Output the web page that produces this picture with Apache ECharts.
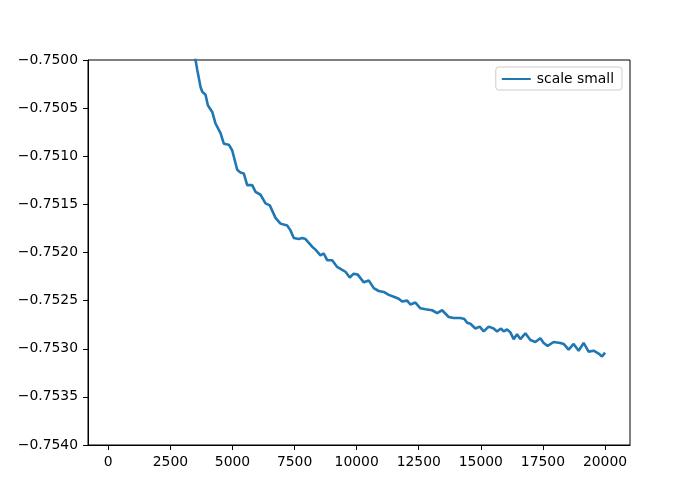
<!DOCTYPE html>
<html>
<head>
<meta charset="utf-8">
<script src="https://cdn.jsdelivr.net/npm/echarts@6/dist/echarts.min.js"></script>
<style>html,body{margin:0;padding:0;background:#fff}#chart{width:700px;height:500px}</style>
</head>
<body>
<div id="chart"></div>
<script>
const seriesName = 'scale small';
const xTicks = [0, 2500, 5000, 7500, 10000, 12500, 15000, 17500, 20000];
const yTicks = [-0.754, -0.7535, -0.753, -0.7525, -0.752, -0.7515, -0.751, -0.7505, -0.75];
const steps = [2708, 3151, 3513, 3581, 3714, 3783, 3916, 4008, 4185, 4318, 4519, 4652, 4853, 4990, 5191, 5324, 5457, 5594, 5795, 5928, 6129, 6330, 6503, 6732, 6934, 7203, 7336, 7469, 7670, 7807, 7940, 8209, 8342, 8543, 8676, 8813, 9014, 9215, 9416, 9549, 9722, 9883, 10044, 10286, 10487, 10688, 10889, 11091, 11292, 11493, 11694, 11831, 12032, 12165, 12366, 12567, 12769, 13038, 13239, 13441, 13706, 13907, 14177, 14338, 14447, 14580, 14781, 14954, 15115, 15316, 15517, 15654, 15815, 15920, 16056, 16189, 16322, 16459, 16592, 16793, 16994, 17195, 17396, 17529, 17690, 17932, 18201, 18334, 18535, 18736, 18938, 19139, 19340, 19541, 19742, 19879, 20000];
const values = [-0.74875, -0.74958, -0.75000, -0.75010, -0.75028, -0.75033, -0.75036, -0.75047, -0.75054, -0.75066, -0.75076, -0.75087, -0.75088, -0.75094, -0.75114, -0.75117, -0.75118, -0.75130, -0.75130, -0.75137, -0.75140, -0.75149, -0.75151, -0.75164, -0.75170, -0.75172, -0.75177, -0.75185, -0.75186, -0.75185, -0.75186, -0.75194, -0.75197, -0.75203, -0.75201, -0.75208, -0.75208, -0.75215, -0.75218, -0.75220, -0.75226, -0.75222, -0.75223, -0.75231, -0.75229, -0.75237, -0.75240, -0.75241, -0.75244, -0.75246, -0.75248, -0.75251, -0.75250, -0.75254, -0.75252, -0.75258, -0.75259, -0.75260, -0.75263, -0.75260, -0.75267, -0.75268, -0.75268, -0.75269, -0.75273, -0.75274, -0.75279, -0.75277, -0.75282, -0.75277, -0.75279, -0.75282, -0.75279, -0.75282, -0.75280, -0.75283, -0.75290, -0.75285, -0.75290, -0.75284, -0.75291, -0.75293, -0.75289, -0.75294, -0.75297, -0.75293, -0.75294, -0.75295, -0.75301, -0.75295, -0.75302, -0.75294, -0.75303, -0.75302, -0.75305, -0.75308, -0.75304];

const data = steps.map((s, i) => [s, values[i]]);
const font = 'DejaVu Sans';
const chart = echarts.init(document.getElementById('chart'), null, {renderer: 'canvas'});
chart.setOption({
  animation: false,
  backgroundColor: '#ffffff',
  grid: {left: 88, right: 70, top: 60, bottom: 55, show: true, borderColor: '#000', borderWidth: 1, backgroundColor: 'transparent', containLabel: false, outerBoundsMode: 'none'},
  legend: {
    data: [{name: seriesName, icon: 'rect'}], right: 78, top: 67, orient: 'vertical',
    backgroundColor: '#fff', borderColor: '#cccccc', borderWidth: 1, borderRadius: 3,
    padding: [5, 8, 4, 6], itemWidth: 29, itemHeight: 2, itemGap: 8,
    itemStyle: {color: '#1f77b4'},
    textStyle: {fontFamily: font, fontSize: 13.9, color: '#000', padding: [0, 0, 0, 1]}
  },
  xAxis: {
    type: 'value', min: -817, max: 21006,
    axisLine: {show: true, onZero: false, lineStyle: {color: '#000', width: 1}},
    axisTick: {show: true, length: 5, lineStyle: {color: '#000'}, customValues: xTicks},
    axisLabel: {show: true, margin: 10, color: '#000', fontFamily: font, fontSize: 13.9, customValues: xTicks, formatter: v => String(Math.round(v))},
    splitLine: {show: false}
  },
  yAxis: {
    type: 'value', min: -0.754, max: -0.75,
    axisLine: {show: true, onZero: false, lineStyle: {color: '#000', width: 1}},
    axisTick: {show: true, length: 5, lineStyle: {color: '#000'}, customValues: yTicks},
    axisLabel: {show: true, margin: 10, color: '#000', fontFamily: font, fontSize: 13.9, customValues: yTicks,
      formatter: v => (v < 0 ? '\u2212' : '') + Math.abs(v).toFixed(4)},
    splitLine: {show: false}
  },
  series: [{
    name: seriesName, type: 'line', data: data, showSymbol: false, symbol: 'none',
    clip: true, lineStyle: {color: '#1f77b4', width: 2.6}, itemStyle: {color: '#1f77b4'}
  }]
});
</script>
</body>
</html>
